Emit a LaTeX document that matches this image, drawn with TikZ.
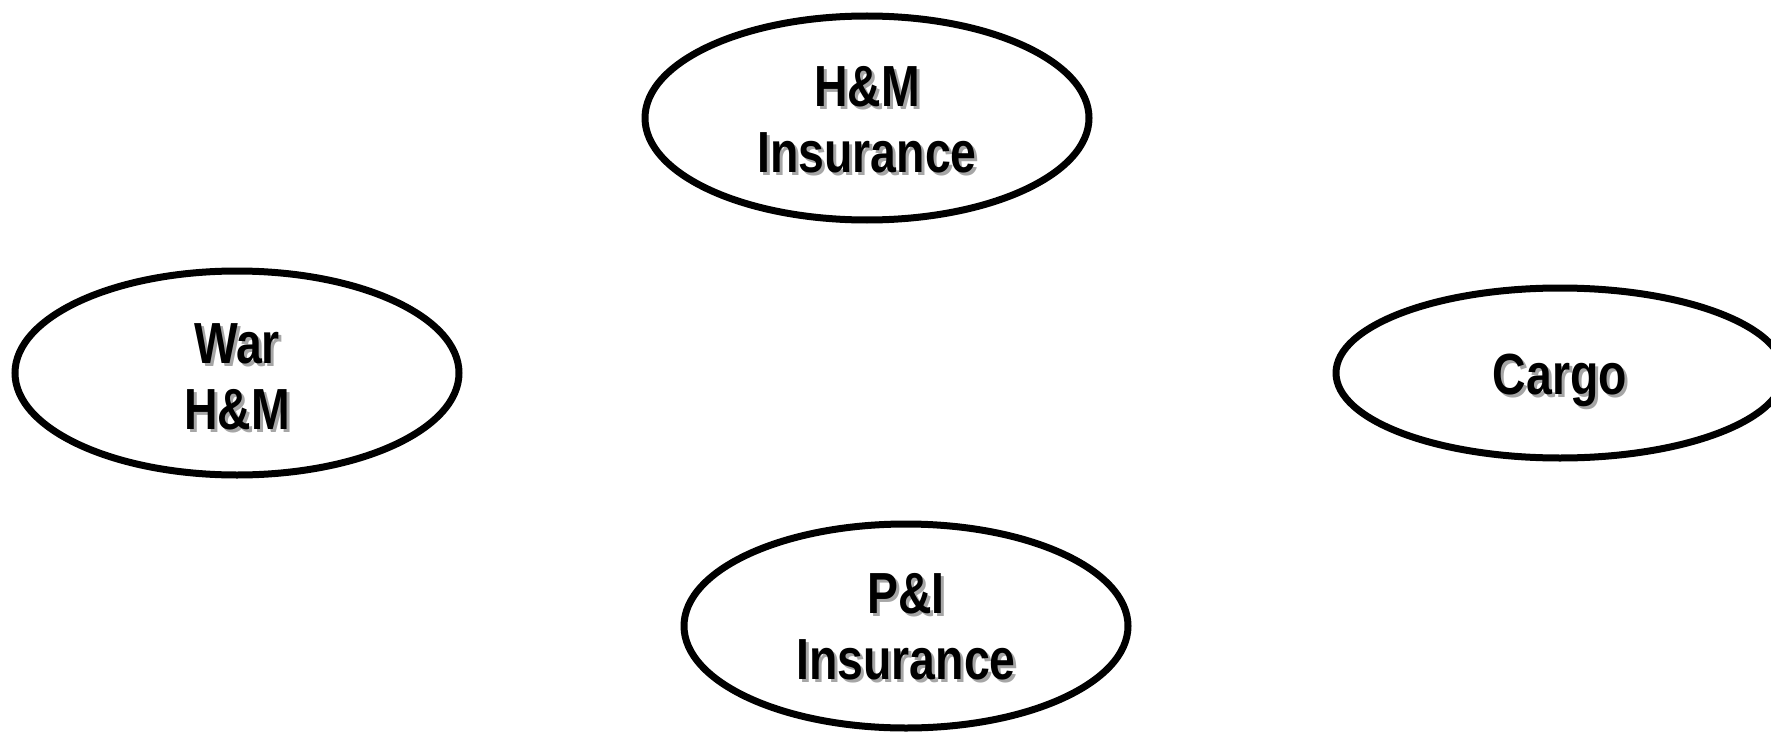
\documentclass[tikz,border=0pt]{standalone}
\usepackage{fontspec}
\newfontfamily\ovalfont{Liberation Sans}[FakeStretch=0.8]
\usetikzlibrary{shapes.geometric}
% 影付きの文字
\newcommand{\shadowed}[1]{\rlap{\kern1.5pt\raisebox{-1.5pt}{\textcolor{black!35}{#1}}}#1}
% 楕円の中の文字（#1 だけ下げる）
\newcommand{\ovaltext}[2]{\raisebox{-#1}[\height][\depth]{\begin{tabular}{@{}c@{}}#2\end{tabular}}}
\begin{document}
\begin{tikzpicture}[x=0.5pt, y=-0.5pt,
    oval/.style={ellipse, draw, line width=3.5pt, inner sep=0pt,
      minimum width=222pt, minimum height=102pt,
      font=\ovalfont\bfseries\fontsize{29}{33.3}\selectfont}]
  % 画像の範囲
  \useasboundingbox (0,0) rectangle (1771,733);
  \clip (0,0) rectangle (1771,733);

  % 楕円
  \node[oval] (hm) at (867,118)
    {\ovaltext{4pt}{\shadowed{H\&M}\\\shadowed{Insurance}}};
  \node[oval] (war) at (237,373)
    {\ovaltext{5pt}{\shadowed{War}\\\shadowed{H\&M}}};
  \node[oval, minimum width=224pt, minimum height=85pt] (cargo) at (1560,373)
    {\ovaltext{4pt}{\shadowed{Cargo}}};
  \node[oval] (pi) at (906,626)
    {\ovaltext{3.5pt}{\shadowed{P\&I}\\\shadowed{Insurance}}};
\end{tikzpicture}
\end{document}
